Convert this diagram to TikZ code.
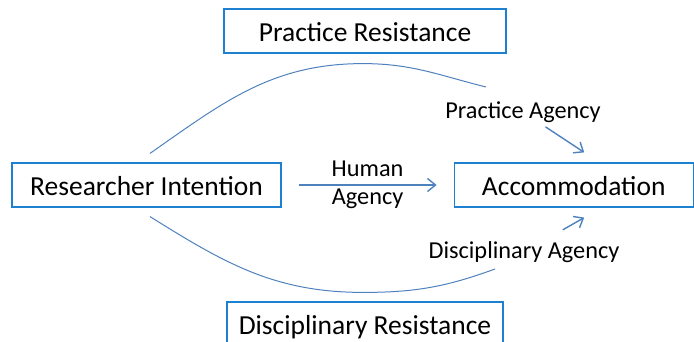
\documentclass[tikz,border=0pt]{standalone}
\usepackage{fontspec}
\setmainfont{Carlito}
\usetikzlibrary{positioning,arrows.meta}
\definecolor{mframe}{RGB}{30,128,208}
\definecolor{mline}{RGB}{79,129,189}
\begin{document}
\begin{tikzpicture}[x=1pt,y=1pt,
  box/.style={draw=mframe,line width=1.2pt,inner sep=0pt,minimum height=44pt,
    text height=20pt,text depth=0pt,font=\fontsize{27.5}{32}\selectfont},
  lbl/.style={inner sep=2pt,align=center,font=\fontsize{24.3}{28}\selectfont},
  link/.style={draw=mline,line width=1pt},
  tip/.style={link,line width=1.4pt,-{Straight Barb[length=8pt,width=13pt]}}]
  \useasboundingbox (0,0) rectangle (694,341);
  \clip (0,0) rectangle (694,341);
  % boxes
  \node[box,minimum width=269pt] (ri) at (146.5,156) {Researcher Intention};
  \node[box,minimum width=239pt,right=172pt of ri] (acc) {Accommodation};
  \node[box,minimum width=282pt] (pr) at (365,310) {Practice Resistance};
  \node[box,minimum width=276pt] (dr) at (365,17) {Disciplinary Resistance};
  % agency labels
  \node[lbl] (pa) at (523,229) {Practice Agency};
  \node[lbl] (da) at (524,89) {Disciplinary Agency};
  \coordinate (patip) at ([xshift=10.5pt,yshift=10pt]acc.north);
  \coordinate (datip) at ([xshift=10.5pt,yshift=-10pt]acc.south);
  % curve ends
  \coordinate (ustart) at ([xshift=3.5pt,yshift=9pt]ri.north);
  \coordinate (utop) at ([xshift=-2pt,yshift=-10pt]pr.south);
  \coordinate (uend) at ([xshift=-37pt,yshift=25pt]pa.center);
  \coordinate (lstart) at ([xshift=3.5pt,yshift=-9pt]ri.south);
  \coordinate (lbot) at ([xshift=-2pt,yshift=9pt]dr.north);
  \coordinate (lend) at ([xshift=-29pt,yshift=-17pt]da.center);
  \draw[link] (ustart) to[out=35,in=180] (utop) to[out=0,in=166] (uend);
  \draw[link] (lstart) to[out=-32,in=180] (lbot) to[out=0,in=-160] (lend);
  % arrows
  \draw[tip,shorten <=17pt,shorten >=17pt] (ri.east) -- node[lbl] (ha) {Human\\Agency} (acc.west);
  \draw[tip,shorten <=4pt] (pa) -- (patip);
  \draw[tip,shorten <=19pt] (da) -- (datip);
\end{tikzpicture}
\end{document}
